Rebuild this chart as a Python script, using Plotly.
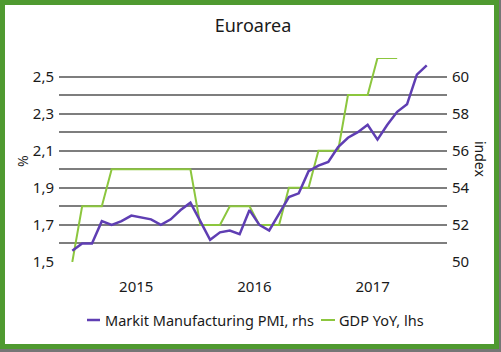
import plotly.graph_objects as go
import pandas as pd

# ---- data ----
months = [p.strftime("%Y-%m") for p in pd.period_range("2014-12", "2017-12", freq="M")]

pmi = [50.6,
       51.0, 51.0, 52.2, 52.0, 52.2, 52.5, 52.4, 52.3, 52.0, 52.3, 52.8, 53.2,
       52.2, 51.2, 51.6, 51.7, 51.5, 52.8, 52.0, 51.7, 52.6, 53.5, 53.7, 54.9,
       55.2, 55.4, 56.2, 56.7, 57.0, 57.4, 56.6, 57.4, 58.1, 58.5, 60.1, 60.6]

gdp = [1.5,
       1.8, 1.8, 1.8, 2.0, 2.0, 2.0, 2.0, 2.0, 2.0, 2.0, 2.0, 2.0,
       1.7, 1.7, 1.7, 1.8, 1.8, 1.8, 1.7, 1.7, 1.7, 1.9, 1.9, 1.9,
       2.1, 2.1, 2.1, 2.4, 2.4, 2.4, 2.6, 2.6, 2.6, None, None, None]

year_labels = ["2015", "2016", "2017"]
year_pos = [6.5, 18.5, 30.5]

left_ticks = [1.5, 1.6, 1.7, 1.8, 1.9, 2.0, 2.1, 2.2, 2.3, 2.4, 2.5, 2.6]
left_text = ["1,5", "", "1,7", "", "1,9", "", "2,1", "", "2,3", "", "2,5", ""]
right_ticks = [50, 52, 54, 56, 58, 60]

PURPLE = "#5f3eb3"
GREEN = "#8cc63e"
FONT = "Noto Sans"
TXT = "#1a1a1a"

x = list(range(len(months)))

fig = go.Figure()
fig.add_trace(go.Scatter(x=x, y=gdp, mode="lines", name="GDP YoY, lhs",
                         line=dict(color=GREEN, width=2), yaxis="y",
                         customdata=months, showlegend=False))
fig.add_trace(go.Scatter(x=x, y=pmi, mode="lines", name="Markit Manufacturing PMI, rhs",
                         line=dict(color=PURPLE, width=2.5), yaxis="y2",
                         customdata=months, showlegend=False))

W, H = 501, 352
L, R, T, B = 59, 54, 58, 90
pw, ph = W - L - R, H - T - B


def px(xp):
    return (xp - L) / pw


def py(yp):
    return (H - B - yp) / ph


shapes = [
    # frame with white fill
    dict(type="rect", xref="paper", yref="paper", layer="below",
         x0=px(2.5), x1=px(496.5), y0=py(346.5), y1=py(2.5),
         line=dict(color="#4f9a30", width=5), fillcolor="white"),
    # legend line samples
    dict(type="line", xref="paper", yref="paper", x0=px(87), x1=px(100), y0=py(320), y1=py(320),
         line=dict(color=PURPLE, width=2.5)),
    dict(type="line", xref="paper", yref="paper", x0=px(321), x1=px(335), y0=py(320), y1=py(320),
         line=dict(color=GREEN, width=2)),
]

annotations = [
    dict(text="Markit Manufacturing PMI, rhs", xref="paper", yref="paper", x=px(103), y=py(320),
         xanchor="left", yanchor="middle", showarrow=False, font=dict(size=14.5, color=TXT)),
    dict(text="GDP YoY, lhs", xref="paper", yref="paper", x=px(337), y=py(320),
         xanchor="left", yanchor="middle", showarrow=False, font=dict(size=14.5, color=TXT)),
    dict(text="%", xref="paper", yref="paper", x=px(22), y=py(161), textangle=-90,
         xanchor="center", yanchor="middle", showarrow=False, font=dict(size=14, color=TXT)),
    dict(text="index", xref="paper", yref="paper", x=px(481), y=py(159), textangle=90,
         xanchor="center", yanchor="middle", showarrow=False, font=dict(size=14, color=TXT)),
]

fig.update_layout(
    width=W, height=H,
    margin=dict(l=L, r=R, t=T, b=B),
    paper_bgcolor="#767676",
    plot_bgcolor="white",
    font=dict(family=FONT, size=15, color=TXT),
    title=dict(text="Euroarea", x=0.5, xref="paper", xanchor="center",
               y=1 - 26 / H, yanchor="middle", font=dict(size=18, color=TXT)),
    xaxis=dict(range=[-1.35, 38.06], tickvals=year_pos, ticktext=year_labels,
               showgrid=False, zeroline=False, showline=False, ticks="",
               ticklabelstandoff=14),
    yaxis=dict(range=[1.5, 2.6], tickvals=left_ticks, ticktext=left_text,
               showgrid=True, gridcolor="#7e7e7e", gridwidth=1.8, zeroline=False,
               ticks="", ticklabelstandoff=4),
    yaxis2=dict(range=[50, 61], tickvals=right_ticks, overlaying="y", side="right",
                showgrid=False, zeroline=False, ticks="", ticklabelstandoff=4),
    shapes=shapes,
    annotations=annotations,
    showlegend=False,
)

fig.write_html("out.html")
